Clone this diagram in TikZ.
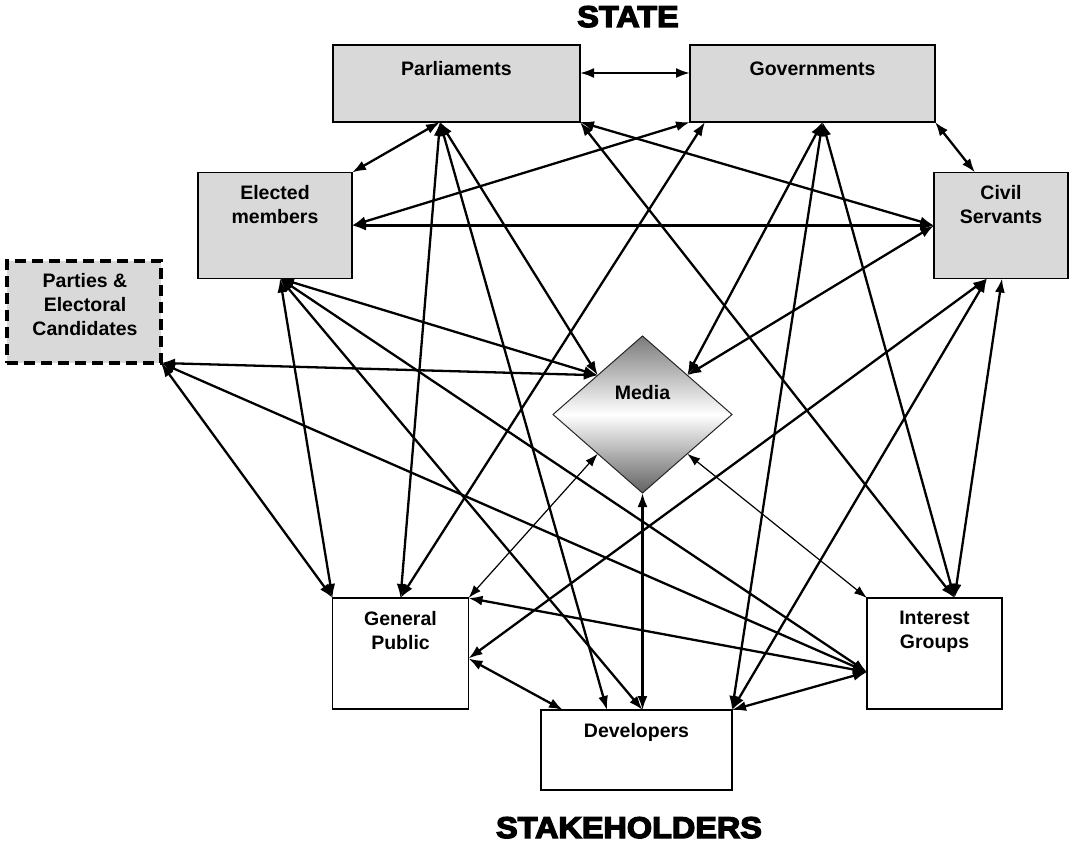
\documentclass[tikz,border=0pt]{standalone}
\usepackage{fontspec}
\setmainfont{Liberation Sans}
\newfontfamily\heavyfont[FakeBold=4.5,FakeStretch=1.08]{Liberation Sans}
\usetikzlibrary{arrows.meta,shapes.geometric}
\definecolor{boxgray}{HTML}{D9D9D9}
\begin{document}
\begin{tikzpicture}[x=1pt,y=-1pt,
  box/.style={draw=black, line width=1.4pt, rectangle, inner sep=0pt, outer sep=0pt},
  gbox/.style={box, fill=boxgray},
  lbl/.style={font=\bfseries\fontsize{19.5}{24}\selectfont, align=center, inner sep=0pt},
  conn/.style={line width=2.3pt, arrows={Latex[length=14pt,width=10pt]-Latex[length=14pt,width=10pt]}},
  thinconn/.style={line width=1.2pt, arrows={Latex[length=13pt,width=9pt]-Latex[length=13pt,width=9pt]}},
  heading/.style={font=\heavyfont\bfseries\fontsize{30}{36}\selectfont, inner sep=0pt, anchor=base}]
\useasboundingbox (0,0) rectangle (1070,843);

% titles
\node[heading] (state) at (628,27) {STATE};
\node[heading] (stake) at (629,838) {STAKEHOLDERS};

% boxes
\node[gbox, minimum width=247pt, minimum height=77pt] (parl) at (456.5,83.5) {};
\node[gbox, minimum width=245pt, minimum height=77pt] (gov) at (812.5,83.5) {};
\node[gbox, minimum width=154pt, minimum height=106pt] (em) at (275,225.5) {};
\node[gbox, minimum width=134pt, minimum height=106pt] (cs) at (1001,225.5) {};
\node[rectangle, fill=boxgray, draw=black, line width=4pt, dash pattern=on 11pt off 6pt,
      minimum width=154pt, minimum height=102pt, inner sep=0pt, outer sep=0pt] (parties) at (84,312) {};
\node[box, fill=white, minimum width=136pt, minimum height=111pt] (gp) at (400.5,653.5) {};
\node[box, fill=white, minimum width=135pt, minimum height=111pt] (ig) at (934.5,653.5) {};
\node[box, fill=white, minimum width=191pt, minimum height=80pt] (dev) at (636.5,750) {};
\node[diamond, draw=black!85, line width=1pt, minimum width=179pt, minimum height=157pt,
      inner sep=0pt, outer sep=0pt, top color=black!52, bottom color=black!62, middle color=white] (media) at (642.5,414.5) {};

% labels
\node[lbl, anchor=base] (parlT) at (456.5,75) {Parliaments};
\node[lbl, anchor=base] (govT) at (812.5,75) {Governments};
\node[lbl, anchor=north] (emT) at (275,185) {Elected\\members};
\node[lbl, anchor=north] (csT) at (1001,185) {Civil\\Servants};
\node[lbl, anchor=north] (partiesT) at (85,273) {Parties \&\\Electoral\\Candidates};
\node[lbl, anchor=north] (gpT) at (400.5,611) {General\\Public};
\node[lbl, anchor=north] (igT) at (934.5,611) {Interest\\Groups};
\node[lbl, anchor=base] (devT) at (636.5,737) {Developers};
\node[lbl, anchor=base] (mediaT) at (642.5,399) {Media};

% attachment points
\coordinate (parlHub) at ([xshift=-16.5pt]parl.south);
\coordinate (govL2) at ([xshift=15pt]gov.south west);
\coordinate (govHub) at ([xshift=10pt]gov.south);
\coordinate (csTop) at ([xshift=-26pt]cs.north);
\coordinate (csB1) at ([xshift=-14pt]cs.south);
\coordinate (csB2) at ([xshift=1pt]cs.south);
\coordinate (emHub) at ([xshift=5pt]em.south);
\coordinate (gpR) at ([yshift=-5pt]gp.east);
\coordinate (devU) at ([xshift=22pt]dev.north west);
\coordinate (devV) at ([xshift=-29.5pt]dev.north);
\coordinate (devW) at (media.south |- dev.north);
\coordinate (igTop) at ([xshift=20pt]ig.north);
\coordinate (igL) at ([yshift=-18.5pt]ig.west);

% connectors
\draw[conn] ([yshift=10.5pt]parl.east) -- ([yshift=10.5pt]gov.west);
\draw[conn] (parlHub) -- (em.north east);
\draw[conn] (parlHub) -- (gp.north);
\draw[conn] (parlHub) -- (devV);
\draw[conn] (parlHub) -- (media.north west);
\draw[conn] (parl.south east) -- (cs.west);
\draw[conn] (parl.south east) -- (igTop);
\draw[conn] (gov.south west) -- (em.east);
\draw[conn] (govL2) -- (gp.north);
\draw[conn] (govHub) -- (media.north east);
\draw[conn] (govHub) -- (dev.north east);
\draw[conn] (govHub) -- (igTop);
\draw[conn] (gov.south east) -- (csTop);
\draw[conn] (em.east) -- (cs.west);
\draw[conn] (cs.west) -- (media.north east);
\draw[conn] (csB1) -- (gpR);
\draw[conn] (csB1) -- (dev.north east);
\draw[conn] (csB2) -- (igTop);
\draw[conn] (emHub) -- (media.north west);
\draw[conn] (emHub) -- (gp.north west);
\draw[conn] (emHub) -- (devW);
\draw[conn] (emHub) -- (igL);
\draw[conn] (parties.south east) -- (media.north west);
\draw[conn] (parties.south east) -- (igL);
\draw[conn] (parties.south east) -- (gp.north west);
\draw[conn] (gp.north east) -- (igL);
\draw[conn] (gpR) -- (devU);
\draw[thinconn] (media.south west) -- (gp.north east);
\draw[conn] (media.south) -- (devW);
\draw[thinconn] (media.south east) -- (ig.north west);
\draw[conn] (igL) -- (dev.north east);
\end{tikzpicture}
\end{document}
